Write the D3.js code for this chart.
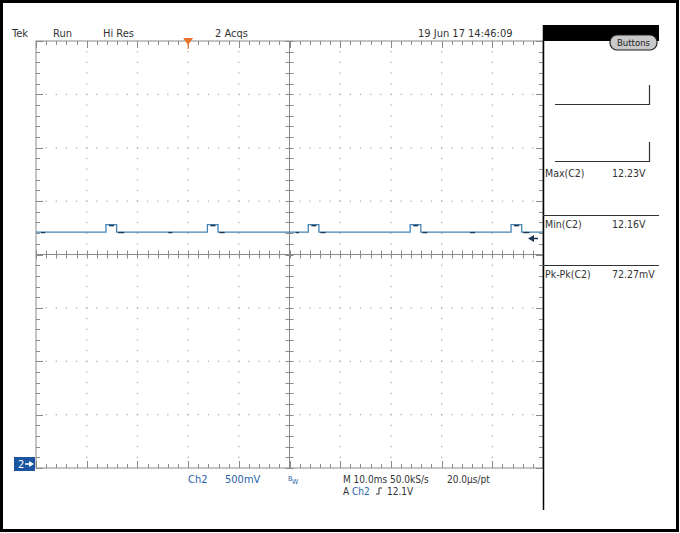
<!DOCTYPE html>
<html><head><meta charset="utf-8">
<script src="https://cdn.jsdelivr.net/npm/d3@7"></script>
<style>
html,body{margin:0;padding:0;background:#fff;}
svg text{font-family:"Liberation Sans Narrow","Arial Narrow","DejaVu Sans Condensed",sans-serif;}
</style></head>
<body><svg id="c" width="680" height="533"></svg>
<script>
// ---- data ----
const timeDomain = [-30, 70];          // ms, 10 ms/div, trigger at 0
const voltDomain = [9.95, 13.95];      // V, 500 mV/div
const trace = [
  [-30, 12.16], [-16.2, 12.16], [-16.2, 12.23], [-14.1, 12.23], [-14.1, 12.16],
  [3.8, 12.16], [3.8, 12.23], [5.9, 12.23], [5.9, 12.16],
  [23.7, 12.16], [23.7, 12.23], [25.8, 12.23], [25.8, 12.16],
  [43.8, 12.16], [43.8, 12.23], [45.9, 12.23], [45.9, 12.16],
  [63.7, 12.16], [63.7, 12.23], [65.8, 12.23], [65.8, 12.16], [70, 12.16]
];
const topMarks = [[-15.6, -14.6], [4.4, 5.4], [24.3, 25.3], [44.4, 45.4], [64.3, 65.3]];
const baseMarks = [[-29.0, -28.2], [-13.8, -12.6], [-3.9, -3.1], [6.2, 7.2], [21.2, 21.9], [26.1, 27.1], [46.2, 47.2], [55.6, 56.6], [66.1, 67.3]];
const headerLabels = ["Tek", "Run", "Hi Res", "2 Acqs", "19 Jun 17 14:46:09"];
const measNames = ["Max(C2)", "Min(C2)", "Pk-Pk(C2)"];
const measValues = ["12.23V", "12.16V", "72.27mV"];
const footer1 = ["Ch2", "500mV", "M 10.0ms 50.0kS/s", "20.0\u00b5s/pt"];
const footer2 = ["Ch2", "12.1V"];
const triggerLevel = 12.1;
const triggerTime = 0;

// ---- drawing ----
const svg = d3.select("#c");
const L = 36, R = 543, T = 41, B = 468;
const x = d3.scaleLinear().domain(timeDomain).range([L, R]);
const y = d3.scaleLinear().domain(voltDomain).range([B, T]);
const txtCol = "#333";

// outer frame
svg.append("rect").attr("x", 1.5).attr("y", 1.5).attr("width", 676).attr("height", 529)
  .attr("fill", "#fff").attr("stroke", "#000").attr("stroke-width", 3);

const xMaj = d3.range(11).map(i => timeDomain[0] + i * 10);
const yMaj = d3.range(9).map(i => voltDomain[0] + i * 0.5);
const xMin = d3.range(51).map(i => timeDomain[0] + i * 2);
const yMin = d3.range(41).map(i => voltDomain[0] + i * 0.1);
const xC = x(20), yC = y(11.95);
const g = svg.append("g");
const gridCol = "#b0b0b0", axCol = "#8a8a8a";

// dotted grid
xMaj.slice(1, -1).forEach(t => {
  if (t === 20) return;
  yMin.slice(1, -1).forEach(v => g.append("rect").attr("x", x(t) - 0.6).attr("y", y(v) - 0.6).attr("width", 1.3).attr("height", 1.3).attr("fill", gridCol));
});
yMaj.slice(1, -1).forEach(v => {
  if (Math.abs(v - 11.95) < 1e-6) return;
  xMin.slice(1, -1).forEach(t => g.append("rect").attr("x", x(t) - 0.6).attr("y", y(v) - 0.6).attr("width", 1.3).attr("height", 1.3).attr("fill", gridCol));
});

// frame of graticule
g.append("rect").attr("x", L).attr("y", T).attr("width", R - L).attr("height", B - T)
  .attr("fill", "none").attr("stroke", axCol).attr("stroke-width", 1);
// center axes
g.append("line").attr("x1", L).attr("x2", R).attr("y1", yC).attr("y2", yC).attr("stroke", axCol);
g.append("line").attr("x1", xC).attr("x2", xC).attr("y1", T).attr("y2", B).attr("stroke", axCol);

function tick(x1, y1, x2, y2) {
  g.append("line").attr("x1", x1).attr("y1", y1).attr("x2", x2).attr("y2", y2).attr("stroke", axCol).attr("stroke-width", 1);
}
xMin.forEach((t, i) => {
  const px = Math.round(x(t)) + 0.5, maj = i % 5 === 0;
  tick(px, yC - 4, px, yC + 4);
  tick(px, T, px, T + (maj ? 7 : 4));
  tick(px, B, px, B - (maj ? 7 : 4));
});
yMin.forEach((v, i) => {
  const py = Math.round(y(v)) + 0.5, maj = i % 5 === 0;
  tick(xC - 4, py, xC + 4, py);
  tick(L, py, L + (maj ? 7 : 4), py);
  tick(R, py, R - (maj ? 7 : 4), py);
});

// trace
const line = d3.line().x(d => x(d[0])).y(d => y(d[1]));
svg.append("path").datum(trace).attr("d", line).attr("fill", "none")
  .attr("stroke", "#4584b3").attr("stroke-width", 1.3);
topMarks.forEach(m => svg.append("line").attr("x1", x(m[0])).attr("x2", x(m[1]))
  .attr("y1", y(12.23) + 1).attr("y2", y(12.23) + 1).attr("stroke", "#1d3550").attr("stroke-width", 1.4));
baseMarks.forEach(m => svg.append("line").attr("x1", x(m[0])).attr("x2", x(m[1]))
  .attr("y1", y(12.16) + 0.5).attr("y2", y(12.16) + 0.5).attr("stroke", "#1d3550").attr("stroke-width", 1.3));

// trigger position marker (top)
const tx = x(triggerTime);
svg.append("path").attr("d", `M${tx - 5},${T - 3} L${tx + 5},${T - 3} L${tx},${T + 4} Z`).attr("fill", "#e8742c");
svg.append("line").attr("x1", tx).attr("x2", tx).attr("y1", T).attr("y2", T + 8).attr("stroke", "#e8742c").attr("stroke-width", 1);
// trigger level arrow (right)
const ty = y(triggerLevel);
svg.append("path").attr("d", `M${R - 15},${ty} L${R - 9},${ty - 3.5} L${R - 9},${ty + 3.5} Z`).attr("fill", "#1d3550");
svg.append("line").attr("x1", R - 10).attr("x2", R - 5).attr("y1", ty).attr("y2", ty).attr("stroke", "#1d3550").attr("stroke-width", 1.5);

// channel ground marker
svg.append("rect").attr("x", 14).attr("y", 457).attr("width", 21).attr("height", 14).attr("fill", "#1b55a0");
svg.append("text").attr("x", 18).attr("y", 468).attr("fill", "#fff").attr("font-size", 11).text("2");
svg.append("path").attr("d", "M34,464 L29,461 L29,467 Z").attr("fill", "#fff");
svg.append("line").attr("x1", 25).attr("x2", 30).attr("y1", 464).attr("y2", 464).attr("stroke", "#fff").attr("stroke-width", 1.5);

// header
const hx = [12, 53, 103, 215, 418];
headerLabels.forEach((s, i) => svg.append("text").attr("x", hx[i]).attr("y", 37).attr("font-size", 11).attr("fill", txtCol).text(s));

// right panel
svg.append("rect").attr("x", 543).attr("y", 25).attr("width", 116).attr("height", 16).attr("fill", "#000");
svg.append("rect").attr("x", 610).attr("y", 35).attr("width", 47).attr("height", 15).attr("rx", 7).attr("fill", "#c8c8c8").attr("stroke", "#222").attr("stroke-width", 1.2);
svg.append("text").attr("x", 633.5).attr("y", 46).attr("text-anchor", "middle").attr("font-size", 9.5).attr("fill", "#222").text("Buttons");
svg.append("line").attr("x1", 543.5).attr("x2", 543.5).attr("y1", 25).attr("y2", 510).attr("stroke", "#000").attr("stroke-width", 1.5);
[[85, 104.5], [142, 161.5]].forEach(b => {
  svg.append("path").attr("d", `M555,${b[1]} L649.5,${b[1]} L649.5,${b[0]}`).attr("fill", "none").attr("stroke", "#333").attr("stroke-width", 1.2);
});
[215, 265].forEach(yy => svg.append("line").attr("x1", 543).attr("x2", 659).attr("y1", yy + 0.5).attr("y2", yy + 0.5).attr("stroke", "#333").attr("stroke-width", 1.2));
const my = [177, 228, 278];
measNames.forEach((s, i) => {
  svg.append("text").attr("x", 545).attr("y", my[i]).attr("font-size", 10.5).attr("fill", txtCol).text(s);
  svg.append("text").attr("x", 612).attr("y", my[i]).attr("font-size", 10.5).attr("fill", txtCol).text(measValues[i]);
});

// footer
svg.append("text").attr("x", 188).attr("y", 483).attr("font-size", 11).attr("fill", "#2a64a8").text(footer1[0]);
svg.append("text").attr("x", 225).attr("y", 483).attr("font-size", 11).attr("fill", "#2a64a8").text(footer1[1]);
svg.append("text").attr("x", 288).attr("y", 481).attr("font-size", 7).attr("fill", "#2a64a8").text("B");
svg.append("text").attr("x", 292).attr("y", 484).attr("font-size", 7).attr("fill", "#2a64a8").text("W");
svg.append("text").attr("x", 343).attr("y", 483).attr("font-size", 10).attr("fill", txtCol).text(footer1[2]);
svg.append("text").attr("x", 447).attr("y", 483).attr("font-size", 10).attr("fill", txtCol).text(footer1[3]);
svg.append("text").attr("x", 343).attr("y", 495).attr("font-size", 10).attr("fill", txtCol).text("A");
svg.append("text").attr("x", 352).attr("y", 495).attr("font-size", 10).attr("fill", "#2a64a8").text(footer2[0]);
svg.append("path").attr("d", "M376,494 L379,494 L379,488 L382,488").attr("fill", "none").attr("stroke", txtCol).attr("stroke-width", 1);
svg.append("text").attr("x", 387).attr("y", 495).attr("font-size", 10).attr("fill", txtCol).text(footer2[1]);
</script></body></html>
